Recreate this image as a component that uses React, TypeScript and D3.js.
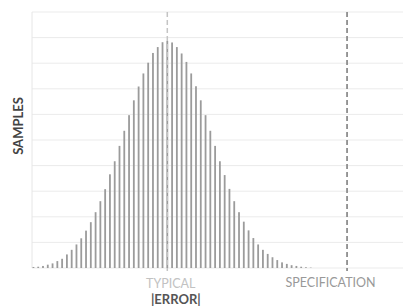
import { useMemo } from "react";
import * as d3 from "d3";

const WIDTH = 406;
const HEIGHT = 307;
const MARGIN = { top: 12, right: 3, bottom: 39, left: 32 };

// sample counts per |error| bin (y-units 0..100)
const SAMPLES = [
  0.4, 0.5, 0.8, 1.3, 1.8, 2.7, 3.6, 5.3, 7.1, 9.2,
  11.6, 14.6, 17.9, 21.8, 26.1, 30.8, 36.6, 41.7, 47.7, 53.6,
  59.7, 65.5, 70.9, 76.0, 80.2, 84.0, 86.3, 88.2, 88.7, 88.1,
  86.3, 83.8, 80.5, 76.0, 71.0, 65.5, 59.7, 53.6, 47.7, 41.7,
  36.3, 30.9, 26.1, 21.8, 18.1, 14.7, 11.7, 9.2, 7.1, 5.5,
  4.2, 3.1, 2.2, 1.6, 1.1, 0.8, 0.5, 0.3, 0.15,
];
const Y_TICKS = [0, 10, 20, 30, 40, 50, 60, 70, 80, 90, 100];
const TYPICAL = 28;
const SPECIFICATION = 65.6;
const X_DOMAIN = [-0.3, 77.3];

const FONT = "Lato, 'Open Sans', sans-serif";

export default function App() {
  const innerW = WIDTH - MARGIN.left - MARGIN.right;
  const innerH = HEIGHT - MARGIN.top - MARGIN.bottom;

  const x = useMemo(
    () => d3.scaleLinear().domain(X_DOMAIN).range([MARGIN.left, MARGIN.left + innerW]),
    [innerW]
  );
  const y = useMemo(
    () => d3.scaleLinear().domain([0, 100]).range([MARGIN.top + innerH, MARGIN.top]),
    [innerH]
  );

  const plotRight = MARGIN.left + innerW;
  const base = y(0);

  return (
    <div style={{ position: "fixed", left: 0, top: 0, width: WIDTH, height: HEIGHT, background: "#fff" }}>
      <svg width={WIDTH} height={HEIGHT} style={{ display: "block", fontFamily: FONT }}>
        {/* grid */}
        {Y_TICKS.map((t) => (
          <line key={t} x1={MARGIN.left} x2={plotRight} y1={y(t)} y2={y(t)} stroke="#ebebeb" strokeWidth={1} />
        ))}
        <line x1={MARGIN.left} x2={MARGIN.left} y1={y(100)} y2={base} stroke="#e6e6e6" strokeWidth={1} />

        {/* bars */}
        {SAMPLES.map((v, i) => (
          <rect key={i} x={x(i) - 0.9} width={1.8} y={y(v)} height={base - y(v)} fill="#9b9b9b" />
        ))}

        {/* reference lines */}
        <line
          x1={x(TYPICAL)}
          x2={x(TYPICAL)}
          y1={y(100)}
          y2={base + 3}
          stroke="#c4c4c4"
          strokeWidth={1.5}
          strokeDasharray="5 3"
        />
        <line
          x1={x(SPECIFICATION)}
          x2={x(SPECIFICATION)}
          y1={y(100)}
          y2={base + 3}
          stroke="#8e8e8e"
          strokeWidth={1.8}
          strokeDasharray="5 3"
        />

        {/* labels */}
        <text x={x(TYPICAL) + 3.5} y={288} textAnchor="middle" fontSize={12.5} fill="#c2c2c2">
          TYPICAL
        </text>
        <text x={x(TYPICAL) + 8.5} y={304} textAnchor="middle" fontSize={13} fontWeight={700} fill="#555">
          |ERROR|
        </text>
        <text x={x(SPECIFICATION) - 16.5} y={287} textAnchor="middle" fontSize={12.5} fill="#999">
          SPECIFICATION
        </text>
        <text
          transform="translate(22.5, 126) rotate(-90)"
          textAnchor="middle"
          fontSize={13}
          fontWeight={700}
          fill="#444"
        >
          SAMPLES
        </text>
      </svg>
    </div>
  );
}
